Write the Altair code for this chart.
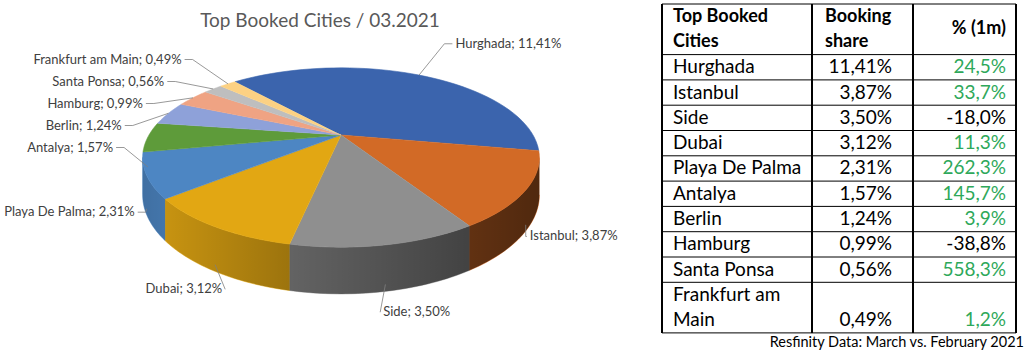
import textwrap
import altair as alt
import pandas as pd

# ---------------- data ----------------
cities = ["Hurghada", "Istanbul", "Side", "Dubai", "Playa De Palma", "Antalya",
          "Berlin", "Hamburg", "Santa Ponsa", "Frankfurt am Main"]
shares = [11.41, 3.87, 3.50, 3.12, 2.31, 1.57, 1.24, 0.99, 0.56, 0.49]
changes = [24.5, 33.7, -18.0, 11.3, 262.3, 145.7, 3.9, -38.8, 558.3, 1.2]
slice_colors = ["#3B64AD", "#D26A26", "#8F8F8F", "#E2A713", "#4D86C3", "#5E9B3A",
                "#8EA1D9", "#EFA383", "#BEBEBE", "#FCD183"]
header_texts = ["Top Booked\nCities", "Booking\nshare", "% (1m)"]
title_text = "Top Booked Cities / 03.2021"
source_text = "Resfinity Data: March vs. February 2021"


def de(v, d):
    return f"{v:.{d}f}".replace(".", ",")


df = pd.DataFrame({"city": cities, "share": shares, "change": changes})
df["idx"] = range(len(df))
df["label"] = [f"{c}; {de(s, 2)}%" for c, s in zip(cities, shares)]
df["share_txt"] = [f"{de(s, 2)}%" for s in shares]
df["change_txt"] = [f"{de(c, 1)}%" for c in changes]
wrapped = [textwrap.wrap(c, 15) for c in cities]
df["tcity"] = ["\n".join(w) for w in wrapped]
df["nl"] = [len(w) for w in wrapped]
df["line0"] = 2 + df["nl"].cumsum() - df["nl"]

# ---------------- layout / style constants ----------------
W, HH = 1026, 353
FONT = "Lato"
CX, CY = 341, 135          # pie apex
R, H = 192, 84             # horizontal / vertical radius
K = 0.251                  # perspective
T = 35                     # wall thickness
START = -41                # first slice angle (deg)
N = 48
RXL, RYT, RYB, GAP = 225, 105, 180, 22
TOP, L = 4, 25.3           # table top, line height
GREEN = "#2EA85A"

XS = alt.Scale(domain=[0, W], nice=False, zero=False)
YS = alt.Scale(domain=[0, HH], nice=False, zero=False, reverse=True)
CS = alt.Scale(domain=cities, range=slice_colors)


def xy(xf, yf):
    return dict(x=alt.X(f"{xf}:Q", scale=XS, axis=None),
                y=alt.Y(f"{yf}:Q", scale=YS, axis=None))


def base_angles():
    return (alt.Chart(df)
            .transform_joinaggregate(total="sum(share)")
            .transform_window(cum="sum(share)", sort=[alt.SortField("idx")], frame=[None, 0])
            .transform_calculate(
                a0=f"{START} + 360*(datum.cum - datum.share)/datum.total",
                a1=f"{START} + 360*datum.cum/datum.total"))


AR = "(acos(-%f)*180/PI)" % K
AL = "(360 - acos(-%f)*180/PI)" % K

# walls (front side)
walls = (base_angles()
         .transform_calculate(b0=f"max(datum.a0, {AR})", b1=f"min(datum.a1, {AL})")
         .transform_filter("datum.b1 > datum.b0")
         .transform_calculate(ks=f"sequence(0, {2 * N + 2})")
         .transform_flatten(["ks"], as_=["k"])
         .transform_calculate(
             t=f"(datum.k <= {N} ? datum.b0 + (datum.b1-datum.b0)*datum.k/{N} : datum.b1 - (datum.b1-datum.b0)*(datum.k-{N}-1)/{N})*PI/180",
             f=f"1/(1 + {K}*cos(datum.t))",
             px=f"{CX} + {R}*sin(datum.t)*datum.f",
             py=f"{CY} - {H}*cos(datum.t)*datum.f + (datum.k > {N} ? {T}*datum.f : 0)")
         .mark_line(strokeWidth=0.6, strokeJoin="round")
         .encode(**xy("px", "py"), order="k:Q",
                 fill=alt.Fill("city:N", scale=CS, legend=None),
                 stroke=alt.Stroke("city:N", scale=CS, legend=None)))

# shading of the wall
shade = (alt.Chart(alt.sequence(0, 2 * N + 2, as_="k"))
         .transform_calculate(
             t=f"(datum.k <= {N} ? {AR} + ({AL}-{AR})*datum.k/{N} : {AL} - ({AL}-{AR})*(datum.k-{N}-1)/{N})*PI/180",
             f=f"1/(1 + {K}*cos(datum.t))",
             px=f"{CX} + {R}*sin(datum.t)*datum.f",
             py=f"{CY} - {H}*cos(datum.t)*datum.f + (datum.k > {N} ? {T}*datum.f : 0)")
         .mark_line(strokeWidth=0, fill=alt.LinearGradient(
             gradient="linear", x1=0, x2=1, y1=0, y2=0,
             stops=[alt.GradientStop(color="rgba(0,0,0,0.17)", offset=0),
                    alt.GradientStop(color="rgba(0,0,0,0.12)", offset=0.06),
                    alt.GradientStop(color="rgba(0,0,0,0.30)", offset=0.36),
                    alt.GradientStop(color="rgba(0,0,0,0.53)", offset=0.81),
                    alt.GradientStop(color="rgba(0,0,0,0.62)", offset=1)]))
         .encode(**xy("px", "py"), order="k:Q"))

# top faces
tops = (base_angles()
        .transform_calculate(ks=f"sequence(0, {N + 2})")
        .transform_flatten(["ks"], as_=["k"])
        .transform_calculate(
            t=f"(datum.a0 + (datum.a1 - datum.a0)*(datum.k-1)/{N})*PI/180",
            f=f"1/(1 + {K}*cos(datum.t))",
            px=f"datum.k == 0 ? {CX} : {CX} + {R}*sin(datum.t)*datum.f",
            py=f"datum.k == 0 ? {CY} : {CY} - {H}*cos(datum.t)*datum.f")
        .mark_line(strokeWidth=0.6, strokeJoin="round")
        .encode(**xy("px", "py"), order="k:Q",
                fill=alt.Fill("city:N", scale=CS, legend=None),
                stroke=alt.Stroke("city:N", scale=CS, legend=None)))

# label positions
lab = (base_angles()
       .transform_calculate(m="(datum.a0 + datum.a1)/2*PI/180")
       .transform_calculate(X="sin(datum.m)", Z="cos(datum.m)")
       .transform_calculate(
           f=f"1/(1 + {K}*datum.Z)",
           side="datum.X < 0 ? 'L' : 'R'",
           lx=f"{CX} + {RXL}*datum.X",
           ly0=f"{CY} - datum.Z*(datum.Z > 0 ? {RYT} : {RYB})")
       .transform_calculate(
           ex=f"{CX} + {R}*datum.X*datum.f",
           ey=f"{CY} - {H}*datum.Z*datum.f + (datum.Z < 0 ? {T}*datum.f*0.85 : 0)")
       .transform_window(r="row_number()", sort=[alt.SortField("ly0")], groupby=["side"])
       .transform_calculate(z=f"datum.ly0 - {GAP}*datum.r")
       .transform_window(cz="max(z)", sort=[alt.SortField("ly0")], groupby=["side"], frame=[None, 0])
       .transform_calculate(ly=f"datum.cz + {GAP}*datum.r"))

LAB_STYLE = dict(baseline="middle", font=FONT, fontSize=13, color="#404040")
lab_l = lab.transform_filter("datum.side == 'L'").mark_text(
    align="right", dx=-3, **LAB_STYLE).encode(**xy("lx", "ly"), text="label:N")
lab_r = lab.transform_filter("datum.side == 'R'").mark_text(
    align="left", dx=3, **LAB_STYLE).encode(**xy("lx", "ly"), text="label:N")

leaders = (lab.transform_calculate(ks="sequence(0, 3)")
           .transform_flatten(["ks"], as_=["k"])
           .transform_calculate(
               p1x="datum.side == 'R' ? max(min(datum.ex, datum.lx), datum.lx - 8) : min(max(datum.ex, datum.lx), datum.lx + 8)")
           .transform_calculate(
               px="datum.k == 0 ? datum.ex : (datum.k == 1 ? datum.p1x : datum.lx)",
               py="datum.k == 0 ? datum.ey : datum.ly")
           .mark_line(color="#7F7F7F", strokeWidth=0.8)
           .encode(**xy("px", "py"), order="k:Q", detail="city:N"))

title = alt.Chart(pd.DataFrame({"t": [title_text]})).mark_text(
    font=FONT, fontSize=19, color="#595959", align="center", baseline="middle"
).encode(x=alt.value(320), y=alt.value(21), text="t:N")

# ---------------- table ----------------
# multi-line text is positioned by its first line
tb = alt.Chart(df).transform_calculate(
    yfirst=f"{TOP} + {L}*(datum.line0 + 0.5)",
    ylast=f"{TOP} + {L}*(datum.line0 + datum.nl - 0.5)")

t_city = tb.mark_text(align="left", baseline="middle", lineBreak="\n", lineHeight=L,
                      font=FONT, fontSize=19, color="black").encode(
    x=alt.value(673), y=alt.Y("yfirst:Q", scale=YS, axis=None), text="tcity:N")
t_share = tb.mark_text(align="right", baseline="middle", font=FONT, fontSize=19, color="black").encode(
    x=alt.value(892), y=alt.Y("ylast:Q", scale=YS, axis=None), text="share_txt:N")
t_change = tb.mark_text(align="right", baseline="middle", font=FONT, fontSize=19).encode(
    x=alt.value(1006), y=alt.Y("ylast:Q", scale=YS, axis=None), text="change_txt:N",
    color=alt.condition("datum.change > 0", alt.value(GREEN), alt.value("black")))

hdr_layers = []
for txt, hx, al in zip(header_texts, [673, 825, 1006], ["left", "left", "right"]):
    n_lines = txt.count("\n") + 1
    hy = TOP + L - (n_lines - 1) * L / 2
    hdr_layers.append(alt.Chart(pd.DataFrame({"h": [txt]})).mark_text(
        align=al, baseline="middle", lineBreak="\n", lineHeight=L, font=FONT,
        fontSize=18, fontWeight="bold", color="black"
    ).encode(x=alt.value(hx), y=alt.value(hy), text="h:N"))

bounds = pd.DataFrame({"b": [0] + list(df["line0"]) + [int(df["line0"].iloc[-1] + df["nl"].iloc[-1])]})
hrules = alt.Chart(bounds).transform_calculate(yb=f"{TOP} + {L}*datum.b").mark_rule(
    color="black", strokeWidth=1).encode(
    x=alt.value(662), x2=alt.value(1016), y=alt.Y("yb:Q", scale=YS, axis=None))

bottom_y = TOP + L * float(bounds["b"].max())
vrules = []
for vx in [662, 812, 913, 1016]:
    vrules.append(alt.Chart(bounds).mark_rule(color="black", strokeWidth=1).encode(
        x=alt.value(vx), y=alt.value(TOP), y2=alt.value(bottom_y)))

footer = alt.Chart(pd.DataFrame({"s": [source_text]})).mark_text(
    font=FONT, fontSize=14.5, color="black", align="right", baseline="middle"
).encode(x=alt.value(1024), y=alt.value(343), text="s:N")

chart = alt.layer(
    walls, shade, tops, leaders, lab_l, lab_r, title,
    hrules, *vrules, t_city, t_share, t_change, *hdr_layers, footer
).properties(
    width=W, height=HH, padding=0,
    autosize=alt.AutoSizeParams(type="none")
).configure_view(stroke=None)

chart.save("out.html", embed_options={"renderer": "svg", "actions": False})
